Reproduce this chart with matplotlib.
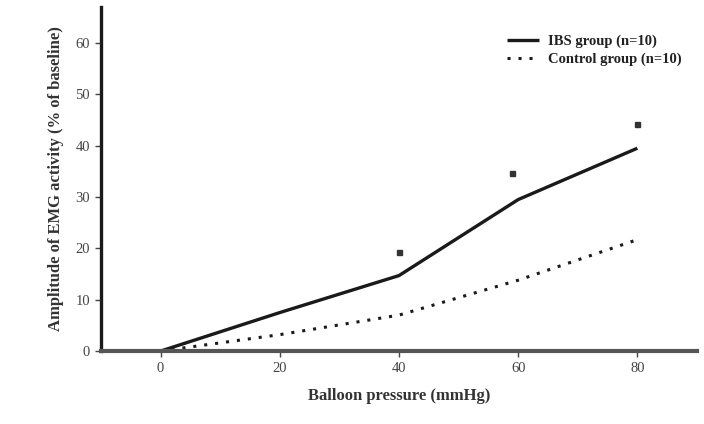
import matplotlib
matplotlib.use("Agg")
import matplotlib.pyplot as plt

# balloon pressure (mmHg)
pressure = [0, 20, 40, 60, 80]
ibs = [0, 7.5, 14.7, 29.5, 39.5]
control = [0, 3.2, 7.0, 13.8, 21.7]

# significance markers
sig_x = [40, 59, 80]
sig_y = [19.2, 34.7, 44.2]

plt.rcParams['font.family'] = ['Liberation Serif', 'DejaVu Serif']

fig = plt.figure(figsize=(7.04, 4.24), dpi=100)
ax = fig.add_axes([0.1435, 0.172, 0.8465, 0.8115])

ax.plot(pressure, ibs, color='#1a1a1a', lw=2.4, solid_capstyle='butt',
        label='IBS group (n=10)')
ax.plot(pressure, control, color='#1a1a1a', lw=2.2, ls=(0, (1, 2.6)),
        label='Control group (n=10)')
ax.plot(sig_x, sig_y, ls='none', marker='s', ms=3.6, color='#333333')

ax.set_xlim(-10, 90)
ax.set_ylim(0, 67)
ax.set_xticks([0, 20, 40, 60, 80])
ax.set_yticks([0, 10, 20, 30, 40, 50, 60])

for side in ['top', 'right']:
    ax.spines[side].set_visible(False)
ax.spines['left'].set_linewidth(2.4)
ax.spines['left'].set_color('#1a1a1a')
ax.spines['bottom'].set_linewidth(3)
ax.spines['bottom'].set_color('#555555')

ax.tick_params(direction='out', length=4, width=1, colors='#444444',
               labelsize=10.5, pad=4)

ax.set_xlabel('Balloon pressure (mmHg)', fontsize=12, fontweight='bold',
              color='#333333', labelpad=9)
ax.set_ylabel('Amplitude of EMG activity (% of baseline)', fontsize=12,
              fontweight='bold', color='#333333', labelpad=8)

leg = ax.legend(loc='upper left', bbox_to_anchor=(0.72, 0.918),
                bbox_transform=fig.transFigure, frameon=False,
                borderaxespad=0, borderpad=0,
                fontsize=10.5, handlelength=2.2, handletextpad=0.6,
                labelspacing=0.3)
for t in leg.get_texts():
    t.set_fontweight('bold')
    t.set_color('#222222')

fig.savefig('out.png', dpi=100)
